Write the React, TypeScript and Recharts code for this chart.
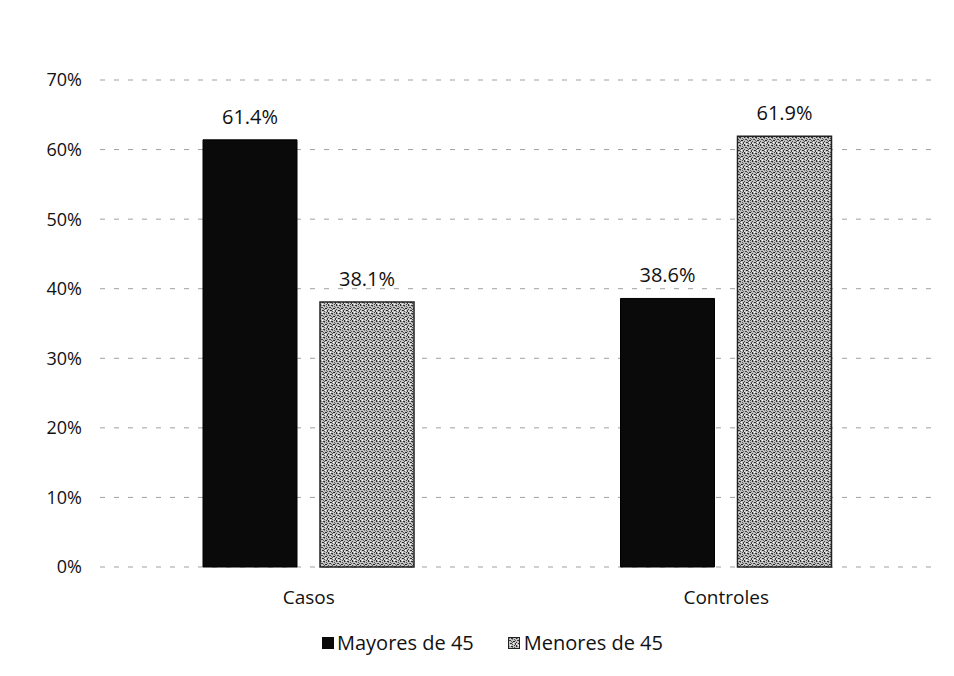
import React from "react";
import { BarChart, Bar, XAxis, YAxis, CartesianGrid, Legend, LabelList } from "recharts";

const categories = ["Casos", "Controles"];
const mayores = [61.4, 38.6];
const menores = [38.1, 61.9];
const yTicks = [0, 10, 20, 30, 40, 50, 60, 70];
const seriesNames = ["Mayores de 45", "Menores de 45"];

const data = categories.map((c, i) => ({ name: c, mayores: mayores[i], menores: menores[i] }));

const FONT = "'Open Sans', 'Liberation Sans', sans-serif";

const StippleDefs = () => (
  <pattern id="stipple" width="8" height="8" patternUnits="userSpaceOnUse">
    <rect width="8" height="8" fill="#c2c2c2" />
    <rect x="0" y="0" width="1" height="2" fill="#2a2a2a" />
    <rect x="3" y="1" width="2" height="1" fill="#333" />
    <rect x="1" y="3" width="1" height="1" fill="#444" />
    <rect x="5" y="4" width="2" height="1" fill="#222" />
    <rect x="6" y="2" width="1" height="1" fill="#555" />
    <rect x="2" y="6" width="2" height="1" fill="#333" />
    <rect x="4" y="7" width="1" height="1" fill="#555" />
    <rect x="7" y="6" width="1" height="2" fill="#3a3a3a" />
    <rect x="0" y="5" width="1" height="1" fill="#444" />
    <rect x="3" y="4" width="1" height="1" fill="#666" />
    <rect x="6" y="0" width="1" height="1" fill="#444" />
    <rect x="4" y="2" width="1" height="1" fill="#777" />
    <rect x="1" y="1" width="1" height="1" fill="#888" />
    <rect x="7" y="3" width="1" height="1" fill="#666" />
    <rect x="2" y="0" width="1" height="1" fill="#fff" />
    <rect x="5" y="6" width="1" height="1" fill="#fff" />
    <rect x="0" y="7" width="1" height="1" fill="#eee" />
    <rect x="4" y="5" width="1" height="1" fill="#555" />
    <rect x="2" y="3" width="1" height="1" fill="#3a3a3a" />
  </pattern>
);

const CustomLegend = () => (
  <div
    style={{
      height: 24,
      lineHeight: "24px",
      display: "flex",
      justifyContent: "center",
      fontFamily: FONT,
      fontSize: 20,
      color: "#111",
      paddingLeft: 42,
    }}
  >
    <span style={{ display: "flex", alignItems: "center", marginRight: 34 }}>
      <span style={{ display: "inline-block", width: 12, height: 12, background: "#0a0a0a", marginRight: 3 }} />
      {seriesNames[0]}
    </span>
    <span style={{ display: "flex", alignItems: "center" }}>
      <svg width={12} height={12} style={{ marginRight: 4 }}>
        <rect x={0.5} y={0.5} width={11} height={11} fill="url(#stipple)" stroke="#222" />
      </svg>
      {seriesNames[1]}
    </span>
  </div>
);

export default function App() {
  return (
    <div style={{ width: 938, height: 660, fontFamily: FONT }}>
      <BarChart
        width={938}
        height={660}
        data={data}
        margin={{ top: 72, right: 11, bottom: 47, left: 0 }}
        barSize={94}
        barGap={23}
      >
        <defs>
          <StippleDefs />
        </defs>
        <CartesianGrid vertical={false} stroke="#a0a0a0" strokeDasharray="5 9" />
        <XAxis
          dataKey="name"
          height={30}
          axisLine={false}
          tickLine={false}
          tickSize={0}
          tickMargin={24}
          tick={{ fill: "#111", fontSize: 19, fontFamily: FONT }}
        />
        <YAxis
          width={92}
          domain={[0, 70]}
          ticks={yTicks}
          axisLine={false}
          tickLine={false}
          tickSize={0}
          tickMargin={18}
          tickFormatter={(v: number) => `${v}%`}
          tick={{ fill: "#111", fontSize: 18, fontFamily: FONT }}
        />
        <Legend verticalAlign="bottom" content={<CustomLegend />} wrapperStyle={{ top: 623 }} />
        <Bar dataKey="mayores" name={seriesNames[0]} fill="#0a0a0a" stroke="#000" isAnimationActive={false}>
          <LabelList
            dataKey="mayores"
            position="top"
            offset={16}
            formatter={(v: number) => `${v.toFixed(1)}%`}
            style={{ fill: "#111", fontSize: 20, fontFamily: FONT }}
          />
        </Bar>
        <Bar dataKey="menores" name={seriesNames[1]} fill="url(#stipple)" stroke="#222" strokeWidth={1.5} isAnimationActive={false}>
          <LabelList
            dataKey="menores"
            position="top"
            offset={16}
            formatter={(v: number) => `${v.toFixed(1)}%`}
            style={{ fill: "#111", fontSize: 20, fontFamily: FONT }}
          />
        </Bar>
      </BarChart>
    </div>
  );
}
